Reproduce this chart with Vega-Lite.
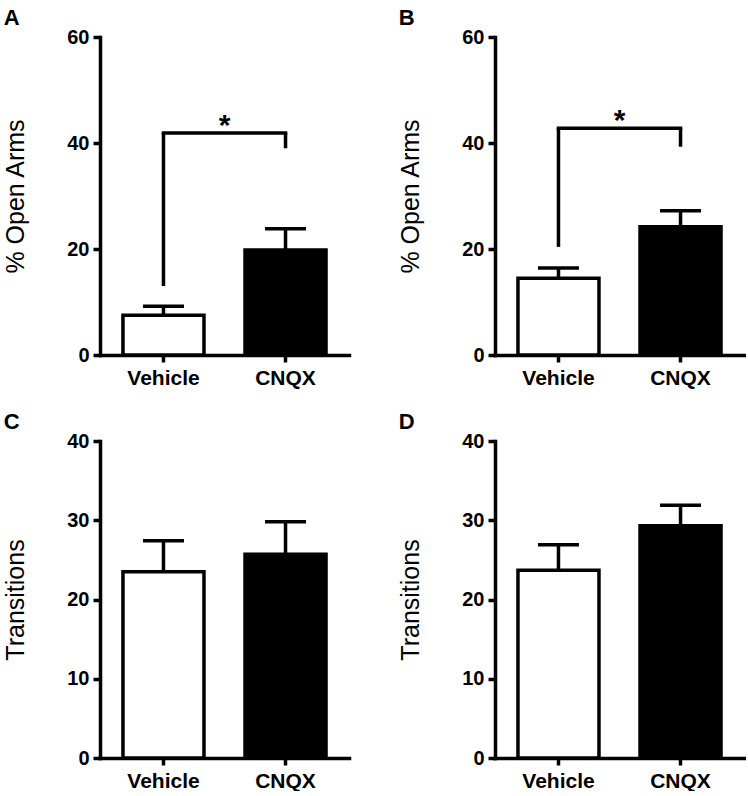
{
  "$schema": "https://vega.github.io/schema/vega-lite/v6.json",
  "background": "white",
  "padding": {"left": 3, "top": 7, "right": 2, "bottom": 0},
  "datasets": {
    "bars": [
      {"panel": "A", "group": "Vehicle", "mean": 7.5, "upper": 9.2},
      {"panel": "A", "group": "CNQX", "mean": 19.8, "upper": 23.8},
      {"panel": "B", "group": "Vehicle", "mean": 14.5, "upper": 16.4},
      {"panel": "B", "group": "CNQX", "mean": 24.2, "upper": 27.2},
      {"panel": "C", "group": "Vehicle", "mean": 23.5, "upper": 27.4},
      {"panel": "C", "group": "CNQX", "mean": 25.7, "upper": 29.8},
      {"panel": "D", "group": "Vehicle", "mean": 23.7, "upper": 26.9},
      {"panel": "D", "group": "CNQX", "mean": 29.3, "upper": 31.9}
    ],
    "bracket": [
      {"panel": "A", "start": "Vehicle", "end": "CNQX", "level": 41.9, "leftLow": 13.0, "rightLow": 39.0, "label": "*"},
      {"panel": "B", "start": "Vehicle", "end": "CNQX", "level": 42.8, "leftLow": 20.4, "rightLow": 39.3, "label": "*"}
    ]
  },
  "columns": 2,
  "spacing": {"column": 49, "row": 23},
  "concat": [
    {
      "title": {"text": "A"},
      "width": 249, "height": 318,
      "layer": [
        {"data": {"name": "bars"}, "transform": [{"filter": "datum.panel === 'A'"}],
         "mark": {"type": "bar", "stroke": "black", "strokeWidth": 3.5, "width": 81},
         "encoding": {
           "x": {"field": "group", "type": "nominal", "scale": {"domain": ["Vehicle", "CNQX"], "paddingInner": 0.3, "paddingOuter": 0.17}, "axis": {"title": null}},
           "y": {"field": "mean", "type": "quantitative", "scale": {"domain": [0, 60], "nice": false}, "axis": {"title": "% Open Arms", "values": [0, 20, 40, 60]}},
           "fill": {"field": "group", "type": "nominal", "scale": {"domain": ["Vehicle", "CNQX"], "range": ["white", "black"]}, "legend": null}
         }},
        {"data": {"name": "bars"}, "transform": [{"filter": "datum.panel === 'A'"}],
         "mark": {"type": "rule", "strokeWidth": 3.5, "color": "black"},
         "encoding": {"x": {"field": "group", "type": "nominal"}, "y": {"field": "mean", "type": "quantitative"}, "y2": {"field": "upper"}}},
        {"data": {"name": "bars"}, "transform": [{"filter": "datum.panel === 'A'"}],
         "mark": {"type": "tick", "orient": "horizontal", "size": 41, "thickness": 3.5, "color": "black", "opacity": 1},
         "encoding": {"x": {"field": "group", "type": "nominal"}, "y": {"field": "upper", "type": "quantitative"}}},
        {"data": {"name": "bracket"}, "transform": [{"filter": "datum.panel === 'A'"}],
         "mark": {"type": "rule", "strokeWidth": 3.5, "color": "black", "strokeCap": "square"},
         "encoding": {"x": {"field": "start", "type": "nominal"}, "x2": {"field": "end"}, "y": {"field": "level", "type": "quantitative"}}},
        {"data": {"name": "bracket"}, "transform": [{"filter": "datum.panel === 'A'"}],
         "mark": {"type": "rule", "strokeWidth": 3.5, "color": "black"},
         "encoding": {"x": {"field": "start", "type": "nominal"}, "y": {"field": "leftLow", "type": "quantitative"}, "y2": {"field": "level"}}},
        {"data": {"name": "bracket"}, "transform": [{"filter": "datum.panel === 'A'"}],
         "mark": {"type": "rule", "strokeWidth": 3.5, "color": "black"},
         "encoding": {"x": {"field": "end", "type": "nominal"}, "y": {"field": "rightLow", "type": "quantitative"}, "y2": {"field": "level"}}},
        {"data": {"name": "bracket"}, "transform": [{"filter": "datum.panel === 'A'"}],
         "mark": {"type": "text", "fontSize": 30, "fontWeight": "bold", "baseline": "alphabetic", "dx": 61, "dy": 2, "color": "black", "font": "Liberation Sans"},
         "encoding": {"x": {"field": "start", "type": "nominal"}, "y": {"field": "level", "type": "quantitative"}, "text": {"field": "label"}}}
      ]
    },
    {
      "title": {"text": "B"},
      "width": 249, "height": 318,
      "layer": [
        {"data": {"name": "bars"}, "transform": [{"filter": "datum.panel === 'B'"}],
         "mark": {"type": "bar", "stroke": "black", "strokeWidth": 3.5, "width": 81},
         "encoding": {
           "x": {"field": "group", "type": "nominal", "scale": {"domain": ["Vehicle", "CNQX"], "paddingInner": 0.3, "paddingOuter": 0.17}, "axis": {"title": null}},
           "y": {"field": "mean", "type": "quantitative", "scale": {"domain": [0, 60], "nice": false}, "axis": {"title": "% Open Arms", "values": [0, 20, 40, 60]}},
           "fill": {"field": "group", "type": "nominal", "scale": {"domain": ["Vehicle", "CNQX"], "range": ["white", "black"]}, "legend": null}
         }},
        {"data": {"name": "bars"}, "transform": [{"filter": "datum.panel === 'B'"}],
         "mark": {"type": "rule", "strokeWidth": 3.5, "color": "black"},
         "encoding": {"x": {"field": "group", "type": "nominal"}, "y": {"field": "mean", "type": "quantitative"}, "y2": {"field": "upper"}}},
        {"data": {"name": "bars"}, "transform": [{"filter": "datum.panel === 'B'"}],
         "mark": {"type": "tick", "orient": "horizontal", "size": 41, "thickness": 3.5, "color": "black", "opacity": 1},
         "encoding": {"x": {"field": "group", "type": "nominal"}, "y": {"field": "upper", "type": "quantitative"}}},
        {"data": {"name": "bracket"}, "transform": [{"filter": "datum.panel === 'B'"}],
         "mark": {"type": "rule", "strokeWidth": 3.5, "color": "black", "strokeCap": "square"},
         "encoding": {"x": {"field": "start", "type": "nominal"}, "x2": {"field": "end"}, "y": {"field": "level", "type": "quantitative"}}},
        {"data": {"name": "bracket"}, "transform": [{"filter": "datum.panel === 'B'"}],
         "mark": {"type": "rule", "strokeWidth": 3.5, "color": "black"},
         "encoding": {"x": {"field": "start", "type": "nominal"}, "y": {"field": "leftLow", "type": "quantitative"}, "y2": {"field": "level"}}},
        {"data": {"name": "bracket"}, "transform": [{"filter": "datum.panel === 'B'"}],
         "mark": {"type": "rule", "strokeWidth": 3.5, "color": "black"},
         "encoding": {"x": {"field": "end", "type": "nominal"}, "y": {"field": "rightLow", "type": "quantitative"}, "y2": {"field": "level"}}},
        {"data": {"name": "bracket"}, "transform": [{"filter": "datum.panel === 'B'"}],
         "mark": {"type": "text", "fontSize": 30, "fontWeight": "bold", "baseline": "alphabetic", "dx": 61, "dy": 2, "color": "black", "font": "Liberation Sans"},
         "encoding": {"x": {"field": "start", "type": "nominal"}, "y": {"field": "level", "type": "quantitative"}, "text": {"field": "label"}}}
      ]
    },
    {
      "title": {"text": "C"},
      "width": 249, "height": 317,
      "layer": [
        {"data": {"name": "bars"}, "transform": [{"filter": "datum.panel === 'C'"}],
         "mark": {"type": "bar", "stroke": "black", "strokeWidth": 3.5, "width": 81},
         "encoding": {
           "x": {"field": "group", "type": "nominal", "scale": {"domain": ["Vehicle", "CNQX"], "paddingInner": 0.3, "paddingOuter": 0.17}, "axis": {"title": null}},
           "y": {"field": "mean", "type": "quantitative", "scale": {"domain": [0, 40], "nice": false}, "axis": {"title": "Transitions", "values": [0, 10, 20, 30, 40]}},
           "fill": {"field": "group", "type": "nominal", "scale": {"domain": ["Vehicle", "CNQX"], "range": ["white", "black"]}, "legend": null}
         }},
        {"data": {"name": "bars"}, "transform": [{"filter": "datum.panel === 'C'"}],
         "mark": {"type": "rule", "strokeWidth": 3.5, "color": "black"},
         "encoding": {"x": {"field": "group", "type": "nominal"}, "y": {"field": "mean", "type": "quantitative"}, "y2": {"field": "upper"}}},
        {"data": {"name": "bars"}, "transform": [{"filter": "datum.panel === 'C'"}],
         "mark": {"type": "tick", "orient": "horizontal", "size": 41, "thickness": 3.5, "color": "black", "opacity": 1},
         "encoding": {"x": {"field": "group", "type": "nominal"}, "y": {"field": "upper", "type": "quantitative"}}}
      ]
    },
    {
      "title": {"text": "D"},
      "width": 249, "height": 317,
      "layer": [
        {"data": {"name": "bars"}, "transform": [{"filter": "datum.panel === 'D'"}],
         "mark": {"type": "bar", "stroke": "black", "strokeWidth": 3.5, "width": 81},
         "encoding": {
           "x": {"field": "group", "type": "nominal", "scale": {"domain": ["Vehicle", "CNQX"], "paddingInner": 0.3, "paddingOuter": 0.17}, "axis": {"title": null}},
           "y": {"field": "mean", "type": "quantitative", "scale": {"domain": [0, 40], "nice": false}, "axis": {"title": "Transitions", "values": [0, 10, 20, 30, 40]}},
           "fill": {"field": "group", "type": "nominal", "scale": {"domain": ["Vehicle", "CNQX"], "range": ["white", "black"]}, "legend": null}
         }},
        {"data": {"name": "bars"}, "transform": [{"filter": "datum.panel === 'D'"}],
         "mark": {"type": "rule", "strokeWidth": 3.5, "color": "black"},
         "encoding": {"x": {"field": "group", "type": "nominal"}, "y": {"field": "mean", "type": "quantitative"}, "y2": {"field": "upper"}}},
        {"data": {"name": "bars"}, "transform": [{"filter": "datum.panel === 'D'"}],
         "mark": {"type": "tick", "orient": "horizontal", "size": 41, "thickness": 3.5, "color": "black", "opacity": 1},
         "encoding": {"x": {"field": "group", "type": "nominal"}, "y": {"field": "upper", "type": "quantitative"}}}
      ]
    }
  ],
  "config": {
    "font": "Liberation Sans",
    "view": {"stroke": null},
    "title": {"anchor": "start", "frame": "bounds", "fontSize": 22, "fontWeight": "bold", "color": "black", "font": "Liberation Sans", "offset": -3},
    "axis": {
      "grid": false,
      "domainColor": "black", "domainWidth": 3.5, "domainCap": "square",
      "tickColor": "black", "tickWidth": 3.5, "tickSize": 7,
      "labelFont": "Liberation Sans", "labelFontWeight": "bold", "labelFontSize": 20, "labelColor": "black", "labelPadding": 4,
      "titleFont": "Liberation Sans", "titleFontWeight": "normal", "titleFontSize": 25, "titleColor": "black", "titlePadding": 38
    },
    "axisX": {"labelAngle": 0, "labelPadding": 5, "labelFontSize": 21},
    "axisY": {"labelPadding": 4}
  }
}
